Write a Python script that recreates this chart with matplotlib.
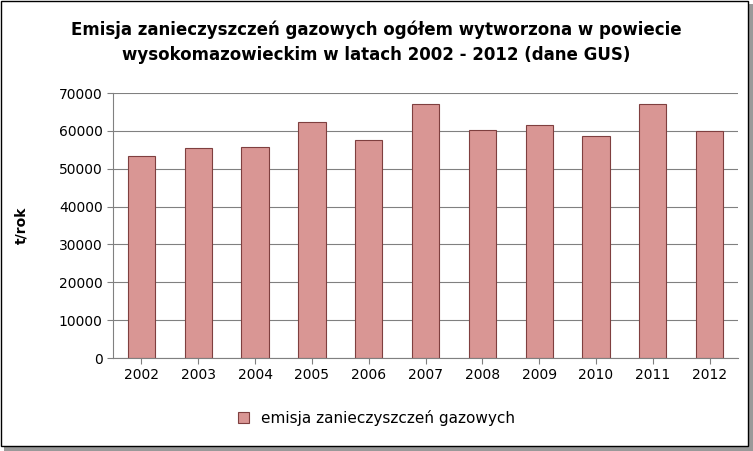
import matplotlib.pyplot as plt
from matplotlib.patches import Rectangle

years = ['2002', '2003', '2004', '2005', '2006', '2007', '2008', '2009', '2010', '2011', '2012']
emisja = [53300, 55500, 55700, 62300, 57600, 67100, 60200, 61500, 58600, 67100, 59900]
yticks = list(range(0, 70001, 10000))

W, H = 753, 451
fig = plt.figure(figsize=(W / 100, H / 100), dpi=100)
plt.rcParams['font.family'] = ['DejaVu Sans']

# frame with a slight shadow like the spreadsheet export
fig.patches.append(Rectangle((4 / W, 0), 1 - 4 / W, 1 - 4 / H, transform=fig.transFigure,
                             facecolor='#999999', edgecolor='none', zorder=-2))
fig.patches.append(Rectangle((0.5 / W, 5 / H), 1 - 5.5 / W, 1 - 5.5 / H, transform=fig.transFigure,
                             facecolor='white', edgecolor='black', lw=1, zorder=-1))

ax = fig.add_axes([113 / W, 1 - 358 / H, (738 - 113) / W, (358 - 93) / H])
x = range(len(years))
ax.bar(x, emisja, width=0.48, color='#d99694', edgecolor='#7f3f3f', lw=0.8,
       label='emisja zanieczyszczeń gazowych')
ax.set_xlim(-0.5, len(years) - 0.5)
ax.set_ylim(0, 70000)
ax.set_yticks(yticks)
ax.set_yticklabels([str(v) for v in yticks], fontsize=10)
ax.set_xticks(list(x))
ax.set_xticklabels(years, fontsize=10)
ax.yaxis.grid(True, color='#808080', lw=0.8)
ax.set_axisbelow(True)
for s in ['top', 'right']:
    ax.spines[s].set_visible(False)
ax.spines['left'].set_color('#808080')
ax.spines['bottom'].set_color('#808080')
ax.tick_params(axis='both', color='#808080', length=4)
ax.set_ylabel('t/rok', fontsize=10, fontweight='bold', labelpad=22)

fig.text(0.5, 1 - 42 / H,
         'Emisja zanieczyszczeń gazowych ogółem wytworzona w powiecie\n'
         'wysokomazowieckim w latach 2002 - 2012 (dane GUS)',
         ha='center', va='center', fontsize=12, fontweight='bold', linespacing=1.5)

fig.legend(loc='center', bbox_to_anchor=(0.5, 1 - 418 / H), frameon=False, fontsize=11,
           handlelength=0.7, handleheight=0.7)

fig.savefig('out.png', dpi=100)
